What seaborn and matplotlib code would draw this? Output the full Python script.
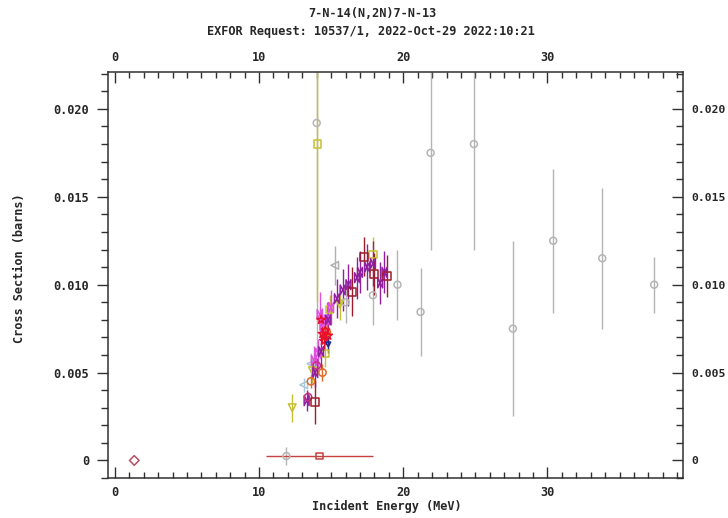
import matplotlib
matplotlib.use("Agg")
import matplotlib.pyplot as plt
import seaborn as sns
from matplotlib.path import Path
from matplotlib.ticker import MultipleLocator, FixedLocator, FuncFormatter

# ---- data (energy in MeV, cross section in barns) ----
grey_e = [11.9, 14.0, 16.0, 17.9, 19.6, 21.2, 21.9, 24.9, 27.6, 30.4, 33.8, 37.4]
grey_cs = [0.00025, 0.0192, 0.0090, 0.0094, 0.0100, 0.00845, 0.0175, 0.0180, 0.0075, 0.0125, 0.0115, 0.0100]
grey_err = [0.0005, 0.013, 0.0012, 0.0017, 0.0020, 0.0025, 0.0055, 0.0060, 0.0050, 0.0041, 0.0040, 0.0016]

ltri_e = [15.25]
ltri_cs = [0.0111]
ltri_err = [0.0011]

blue_tri_e = [13.1, 13.6]
blue_tri_cs = [0.0043, 0.0055]
blue_tri_err = [0.0004, 0.0006]

dred_e = [13.9, 16.45, 17.25, 17.95, 18.9]
dred_cs = [0.0033, 0.0096, 0.0116, 0.0106, 0.0105]
dred_err = [0.0012, 0.0014, 0.0011, 0.0012, 0.0012]

hbar_e = [14.2]
hbar_cs = [0.00025]
hbar_xerr = [3.7]

diam_e = [1.35]
diam_cs = [0.0]

ysq_e = [14.05, 14.6, 14.9, 17.9]
ysq_cs = [0.0180, 0.0061, 0.0086, 0.0117]
ysq_err = [0.009, 0.0008, 0.0008, 0.0010]

ytri_e = [12.3, 13.7, 15.6]
ytri_cs = [0.0030, 0.0051, 0.0089]
ytri_err = [0.0008, 0.0007, 0.0009]

purp_e = [13.3, 13.9, 14.3, 14.8, 15.4, 15.8, 16.2, 16.8, 17.0, 17.5, 17.9, 18.4, 18.7]
purp_cs = [0.0034, 0.0050, 0.0062, 0.0080, 0.0092, 0.0097, 0.0100, 0.0104, 0.0107, 0.0110, 0.0112, 0.0101, 0.0107]
purp_err = [0.0006, 0.0008, 0.0010, 0.0010, 0.0011, 0.0012, 0.0012, 0.0012, 0.0012, 0.0013, 0.0013, 0.0012, 0.0012]

mag_e = [13.8, 14.1, 14.2, 14.4, 14.7, 15.0]
mag_cs = [0.0057, 0.0061, 0.0083, 0.0077, 0.0080, 0.0087]
mag_err = [0.0008, 0.0008, 0.0013, 0.0010, 0.0010, 0.0010]

red_e = [14.3, 14.4, 14.5, 14.6, 14.8]
red_cs = [0.0080, 0.0072, 0.0068, 0.0074, 0.0071]
red_err = [0.0005, 0.0005, 0.0005, 0.0005, 0.0005]

orng_e = [13.6, 14.4, 14.7]
orng_cs = [0.0045, 0.0050, 0.0073]
orng_err = [0.0004, 0.0005, 0.0005]

navy_e = [14.8]
navy_cs = [0.0066]
navy_err = [0.0005]

mcirc_e = [13.4, 14.0]
mcirc_cs = [0.0036, 0.0054]
mcirc_err = [0.0003, 0.0004]

y_ticks = [0, 0.005, 0.010, 0.015, 0.020]
y_labels = ["0", "0.005", "0.010", "0.015", "0.020"]

# the "N"-like bow tie symbol of the EXFOR plotter
bowtie = Path([(-0.5, -1), (-0.5, 1), (0.5, -1), (0.5, 1), (-0.5, -1)],
              [Path.MOVETO, Path.LINETO, Path.LINETO, Path.LINETO, Path.CLOSEPOLY])

series = [
    # x, y, yerr, xerr, colour, marker, size
    (grey_e, grey_cs, grey_err, None, "#b4b4b4", "o", 25),
    (ltri_e, ltri_cs, ltri_err, None, "#b0b0b0", "<", 30),
    (blue_tri_e, blue_tri_cs, blue_tri_err, None, "#a8c8d8", "<", 30),
    (ytri_e, ytri_cs, ytri_err, None, "#c8c030", "v", 30),
    (ysq_e, ysq_cs, ysq_err, None, "#c8c030", "s", 28),
    (mag_e, mag_cs, mag_err, None, "#e050e0", bowtie, 50),
    (purp_e, purp_cs, purp_err, None, "#9020a0", bowtie, 50),
    (orng_e, orng_cs, orng_err, None, "#e06828", "o", 28),
    (mcirc_e, mcirc_cs, mcirc_err, None, "#c03080", "o", 28),
    (red_e, red_cs, red_err, None, "#e8102a", "*", 40),
    (navy_e, navy_cs, navy_err, None, "#1a2a90", "v", 12),
    (dred_e, dred_cs, dred_err, None, "#9c1c2c", "s", 34),
    (hbar_e, hbar_cs, None, hbar_xerr, "#c84040", "s", 20),
    (diam_e, diam_cs, None, None, "#b85060", "D", 24),
]

sns.set_style("white")
plt.rcParams["font.family"] = ["DejaVu Sans Mono"]
plt.rcParams["font.weight"] = "bold"

fig = plt.figure(figsize=(7.28, 5.18), dpi=100)
ax = fig.add_axes([0.1488, 0.0772, 0.7894, 0.7838])

for x, y, yerr, xerr, c, m, s in series:
    if yerr is not None or xerr is not None:
        ax.errorbar(x, y, yerr=yerr, xerr=xerr, fmt="none", ecolor=c,
                    elinewidth=1.0, capsize=0, zorder=2)
    sns.scatterplot(x=x, y=y, ax=ax, marker=m, s=s, facecolor="none",
                    edgecolor=c, linewidth=1.1, zorder=3, legend=False)

ax.set_xlim(-0.45, 39.4)
ax.set_ylim(-0.001, 0.0221)

for sp in ax.spines.values():
    sp.set_color("#303030")
    sp.set_linewidth(1.1)

fmt = FuncFormatter(lambda v, p: y_labels[p] if p is not None and p < len(y_labels) else "")

ax.xaxis.set_major_locator(MultipleLocator(10))
ax.xaxis.set_minor_locator(MultipleLocator(1))
ax.yaxis.set_major_locator(FixedLocator(y_ticks))
ax.yaxis.set_minor_locator(MultipleLocator(0.001))
ax.yaxis.set_major_formatter(fmt)
ax.tick_params(axis="x", which="both", direction="in", top=True, bottom=True,
               labeltop=True, labelbottom=True, color="#303030", labelsize=8.6, pad=6)
ax.tick_params(axis="x", which="major", length=8, width=1)
ax.tick_params(axis="x", which="minor", length=4, width=1)
ax.tick_params(axis="y", which="both", direction="out", left=True, right=False,
               color="#303030", labelsize=8.6, pad=6)
ax.tick_params(axis="y", which="major", length=8, width=1)
ax.tick_params(axis="y", which="minor", length=5, width=1)

ax2 = ax.twinx()
ax2.set_ylim(ax.get_ylim())
ax2.yaxis.set_major_locator(FixedLocator(y_ticks))
ax2.yaxis.set_minor_locator(MultipleLocator(0.001))
ax2.yaxis.set_major_formatter(fmt)
ax2.tick_params(axis="y", which="both", direction="in", right=True, left=False,
                color="#303030", labelsize=8.2, pad=6)
ax2.tick_params(axis="y", which="major", length=8, width=1)
ax2.tick_params(axis="y", which="minor", length=5, width=1)
for sp in ax2.spines.values():
    sp.set_visible(False)

ax.set_xlabel("Incident Energy (MeV)", fontsize=8.6, fontweight="bold", va="center")
ax.xaxis.set_label_coords(0.485, -0.069)
ax.set_ylabel("Cross Section (barns)", fontsize=8.6, fontweight="bold", va="center")
ax.yaxis.set_label_coords(-0.155, 0.517)

fig.text(0.511, 0.973, "7-N-14(N,2N)7-N-13", ha="center", va="center",
         fontsize=8.6, fontweight="bold")
fig.text(0.509, 0.940, "EXFOR Request: 10537/1, 2022-Oct-29 2022:10:21",
         ha="center", va="center", fontsize=8.6, fontweight="bold")

fig.savefig("out.png", dpi=100, facecolor="white")
